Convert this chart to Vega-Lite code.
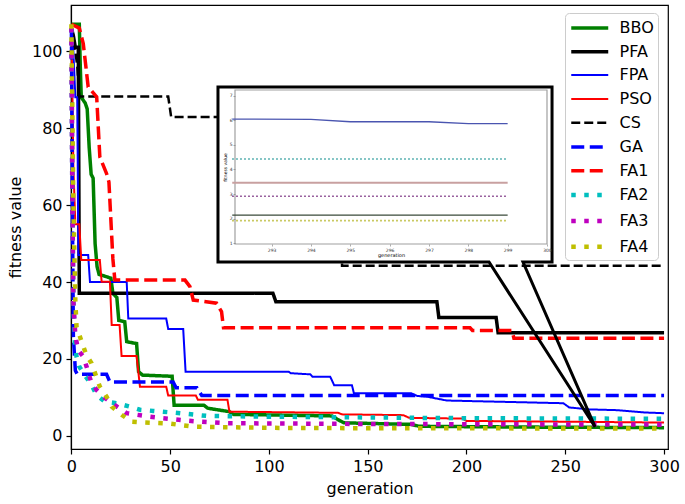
{
  "$schema": "https://vega.github.io/schema/vega-lite/v6.json",
  "width": 597,
  "height": 444,
  "autosize": "none",
  "padding": {"left": 71, "top": 5, "right": 17, "bottom": 55},
  "background": "white",
  "config": {
    "font": "DejaVu Sans",
    "view": {"stroke": "#000", "strokeWidth": 1.2},
    "axis": {"labelFont": "DejaVu Sans", "titleFont": "DejaVu Sans", "labelFontSize": 16, "titleFontSize": 16, "titleFontWeight": "normal", "labelColor": "#000", "titleColor": "#000", "tickColor": "#000", "domainColor": "#000", "tickSize": 5, "grid": false, "labelFlush": false, "labelOverlap": false, "domainWidth": 1.2, "tickWidth": 1.2}
  },
  "datasets": {
    "main": [
      {"s":"BBO","x":0,"y":107},{"s":"BBO","x":4,"y":107},{"s":"BBO","x":4.5,"y":96},{"s":"BBO","x":5,"y":88},{"s":"BBO","x":7,"y":86.5},{"s":"BBO","x":8,"y":85},{"s":"BBO","x":9,"y":75},{"s":"BBO","x":10,"y":68},{"s":"BBO","x":11,"y":67},{"s":"BBO","x":12,"y":50},{"s":"BBO","x":13,"y":44},{"s":"BBO","x":14,"y":42},{"s":"BBO","x":20,"y":41},{"s":"BBO","x":21,"y":37},{"s":"BBO","x":23,"y":36},{"s":"BBO","x":24,"y":30},{"s":"BBO","x":27,"y":29.7},{"s":"BBO","x":28,"y":24.5},{"s":"BBO","x":33,"y":24},{"s":"BBO","x":34,"y":16.7},{"s":"BBO","x":36,"y":15.8},{"s":"BBO","x":51,"y":15.5},{"s":"BBO","x":52,"y":8},{"s":"BBO","x":67,"y":8},{"s":"BBO","x":69,"y":7.2},{"s":"BBO","x":80,"y":6.3},{"s":"BBO","x":82,"y":5.6},{"s":"BBO","x":132,"y":5.2},{"s":"BBO","x":135,"y":4.2},{"s":"BBO","x":138,"y":3.4},{"s":"BBO","x":172,"y":3.0},{"s":"BBO","x":176,"y":2.5},{"s":"BBO","x":230,"y":2.3},{"s":"BBO","x":300,"y":2.15},
      {"s":"PFA","x":0,"y":106},{"s":"PFA","x":1,"y":104},{"s":"PFA","x":2,"y":101},{"s":"PFA","x":3.5,"y":101},{"s":"PFA","x":4,"y":37.1},{"s":"PFA","x":102,"y":37.1},{"s":"PFA","x":103.5,"y":34.9},{"s":"PFA","x":185,"y":34.9},{"s":"PFA","x":186,"y":30.8},{"s":"PFA","x":215,"y":30.8},{"s":"PFA","x":216,"y":26.8},{"s":"PFA","x":300,"y":26.8},
      {"s":"FPA","x":0,"y":106},{"s":"FPA","x":1,"y":100},{"s":"FPA","x":2,"y":88},{"s":"FPA","x":3,"y":88},{"s":"FPA","x":3.5,"y":47},{"s":"FPA","x":8.5,"y":47},{"s":"FPA","x":9.4,"y":40},{"s":"FPA","x":28,"y":40},{"s":"FPA","x":28.8,"y":30.5},{"s":"FPA","x":48,"y":30.5},{"s":"FPA","x":49,"y":27.8},{"s":"FPA","x":56.6,"y":27.8},{"s":"FPA","x":57.8,"y":16.7},{"s":"FPA","x":110,"y":16.7},{"s":"FPA","x":111,"y":16.3},{"s":"FPA","x":121,"y":16.0},{"s":"FPA","x":122,"y":15.4},{"s":"FPA","x":131,"y":15.4},{"s":"FPA","x":133,"y":13.2},{"s":"FPA","x":142,"y":13.2},{"s":"FPA","x":143,"y":11.1},{"s":"FPA","x":172,"y":11.1},{"s":"FPA","x":175,"y":10.4},{"s":"FPA","x":180,"y":10.2},{"s":"FPA","x":190,"y":9.2},{"s":"FPA","x":215,"y":8.9},{"s":"FPA","x":249,"y":8.5},{"s":"FPA","x":252,"y":7.4},{"s":"FPA","x":262,"y":6.9},{"s":"FPA","x":276,"y":6.7},{"s":"FPA","x":290,"y":6.1},{"s":"FPA","x":300,"y":5.9},
      {"s":"PSO","x":0,"y":106},{"s":"PSO","x":0.5,"y":90},{"s":"PSO","x":1,"y":70},{"s":"PSO","x":2,"y":55},{"s":"PSO","x":4,"y":55},{"s":"PSO","x":5,"y":45.7},{"s":"PSO","x":14.4,"y":45.7},{"s":"PSO","x":15.3,"y":40.1},{"s":"PSO","x":19.5,"y":40.1},{"s":"PSO","x":20.4,"y":28.8},{"s":"PSO","x":24.4,"y":28.8},{"s":"PSO","x":25.4,"y":20.8},{"s":"PSO","x":33,"y":20.8},{"s":"PSO","x":34.7,"y":12.8},{"s":"PSO","x":48,"y":12.8},{"s":"PSO","x":49,"y":10.5},{"s":"PSO","x":63,"y":10.5},{"s":"PSO","x":64,"y":9.4},{"s":"PSO","x":79,"y":9.4},{"s":"PSO","x":80,"y":6.3},{"s":"PSO","x":135,"y":6.0},{"s":"PSO","x":137,"y":5.6},{"s":"PSO","x":168,"y":5.4},{"s":"PSO","x":171,"y":4.7},{"s":"PSO","x":198,"y":4.5},{"s":"PSO","x":200,"y":3.9},{"s":"PSO","x":250,"y":3.7},{"s":"PSO","x":300,"y":3.47},
      {"s":"CS","x":0,"y":106},{"s":"CS","x":1,"y":104},{"s":"CS","x":2,"y":100},{"s":"CS","x":3,"y":96},{"s":"CS","x":4,"y":88.2},{"s":"CS","x":49,"y":88.2},{"s":"CS","x":50.5,"y":82.9},{"s":"CS","x":136,"y":82.9},{"s":"CS","x":137,"y":44.2},{"s":"CS","x":300,"y":44.2},
      {"s":"GA","x":0,"y":106},{"s":"GA","x":0.5,"y":60},{"s":"GA","x":1,"y":26},{"s":"GA","x":2,"y":17},{"s":"GA","x":3,"y":16},{"s":"GA","x":17.8,"y":16},{"s":"GA","x":19.5,"y":14},{"s":"GA","x":51.5,"y":14},{"s":"GA","x":53,"y":12.5},{"s":"GA","x":63.5,"y":12.5},{"s":"GA","x":66,"y":10.5},{"s":"GA","x":300,"y":10.5},
      {"s":"FA1","x":0,"y":107},{"s":"FA1","x":4,"y":106},{"s":"FA1","x":6,"y":102},{"s":"FA1","x":8.5,"y":90.7},{"s":"FA1","x":12.8,"y":88.1},{"s":"FA1","x":14.4,"y":72.5},{"s":"FA1","x":17.8,"y":68.2},{"s":"FA1","x":19,"y":66},{"s":"FA1","x":21,"y":46},{"s":"FA1","x":22,"y":40.5},{"s":"FA1","x":57.5,"y":40.5},{"s":"FA1","x":60,"y":38.8},{"s":"FA1","x":61.7,"y":35.3},{"s":"FA1","x":73.5,"y":34.5},{"s":"FA1","x":76,"y":32.3},{"s":"FA1","x":77,"y":28.1},{"s":"FA1","x":201.8,"y":28.1},{"s":"FA1","x":203,"y":27.4},{"s":"FA1","x":223,"y":27.4},{"s":"FA1","x":224,"y":25.4},{"s":"FA1","x":300,"y":25.4},
      {"s":"FA2","x":0,"y":106},{"s":"FA2","x":0.5,"y":60},{"s":"FA2","x":1,"y":35},{"s":"FA2","x":1.8,"y":24.1},{"s":"FA2","x":2.6,"y":20.6},{"s":"FA2","x":4,"y":18},{"s":"FA2","x":6.8,"y":15.8},{"s":"FA2","x":10.2,"y":13.2},{"s":"FA2","x":12.8,"y":10.6},{"s":"FA2","x":17,"y":8.9},{"s":"FA2","x":22.9,"y":8.5},{"s":"FA2","x":29.6,"y":7.6},{"s":"FA2","x":34.7,"y":6.8},{"s":"FA2","x":41.4,"y":6.5},{"s":"FA2","x":55,"y":5.9},{"s":"FA2","x":68.5,"y":5.2},{"s":"FA2","x":100,"y":5.0},{"s":"FA2","x":150,"y":4.8},{"s":"FA2","x":200,"y":4.6},{"s":"FA2","x":300,"y":4.45},
      {"s":"FA3","x":0,"y":106},{"s":"FA3","x":0.5,"y":60},{"s":"FA3","x":1,"y":35},{"s":"FA3","x":2,"y":26},{"s":"FA3","x":3.4,"y":22.3},{"s":"FA3","x":6,"y":20.6},{"s":"FA3","x":7.7,"y":18},{"s":"FA3","x":10,"y":14},{"s":"FA3","x":12.8,"y":11.9},{"s":"FA3","x":16.1,"y":10.2},{"s":"FA3","x":22,"y":8},{"s":"FA3","x":28,"y":5.9},{"s":"FA3","x":33,"y":5.5},{"s":"FA3","x":39.7,"y":5.0},{"s":"FA3","x":46.5,"y":4.6},{"s":"FA3","x":58.3,"y":4.0},{"s":"FA3","x":65,"y":3.7},{"s":"FA3","x":78.6,"y":3.3},{"s":"FA3","x":150,"y":3.1},{"s":"FA3","x":300,"y":2.93},
      {"s":"FA4","x":0,"y":107},{"s":"FA4","x":1,"y":60},{"s":"FA4","x":2,"y":35},{"s":"FA4","x":2.6,"y":28.4},{"s":"FA4","x":5.2,"y":24.5},{"s":"FA4","x":7.6,"y":21},{"s":"FA4","x":10.2,"y":18.9},{"s":"FA4","x":14.4,"y":12.8},{"s":"FA4","x":17.8,"y":10.2},{"s":"FA4","x":20.4,"y":7.6},{"s":"FA4","x":25.4,"y":5.5},{"s":"FA4","x":30.5,"y":3.7},{"s":"FA4","x":36.4,"y":3.5},{"s":"FA4","x":49.9,"y":3.2},{"s":"FA4","x":61.7,"y":2.4},{"s":"FA4","x":100,"y":2.1},{"s":"FA4","x":150,"y":2.0},{"s":"FA4","x":300,"y":1.92}
    ],
    "box": [{"x": 74.2, "x2": 243.3, "y": 45.2, "y2": 90.7}],
    "border": [
      {"o":0,"x":265.1,"y":2.33},{"o":1,"x":211.4,"y":45.2},{"o":2,"x":74.2,"y":45.2},{"o":3,"x":74.2,"y":90.7},{"o":4,"x":243.3,"y":90.7},{"o":5,"x":243.3,"y":45.2},{"o":6,"x":228.6,"y":45.2},{"o":7,"x":265.1,"y":2.33}
    ],
    "inset": [
      {"s":"FPA","x":292,"y":6.05},{"s":"FPA","x":294,"y":6.04},{"s":"FPA","x":295,"y":5.94},{"s":"FPA","x":297,"y":5.94},{"s":"FPA","x":298,"y":5.86},{"s":"FPA","x":299,"y":5.86},
      {"s":"FA2","x":292,"y":4.43},{"s":"FA2","x":299,"y":4.43},
      {"s":"PSO","x":292,"y":3.46},{"s":"PSO","x":299,"y":3.46},
      {"s":"FA3","x":292,"y":2.91},{"s":"FA3","x":299,"y":2.91},
      {"s":"BBO","x":292,"y":2.14},{"s":"BBO","x":299,"y":2.14},
      {"s":"FA4","x":292,"y":1.92},{"s":"FA4","x":299,"y":1.92}
    ]
  },
  "layer": [
    {
      "layer": [
        {
          "data": {"name": "main"},
          "mark": {"type": "line", "strokeCap": "butt", "strokeJoin": "miter"},
          "encoding": {
            "x": {"field": "x", "type": "quantitative", "title": "generation", "scale": {"domain": [-0.2, 302], "nice": false, "zero": false}, "axis": {"values": [0, 50, 100, 150, 200, 250, 300], "labelPadding": 4, "titlePadding": 6}},
            "y": {"field": "y", "type": "quantitative", "title": "fitness value", "scale": {"domain": [-3.4, 112], "nice": false, "zero": false}, "axis": {"values": [0, 20, 40, 60, 80, 100], "labelPadding": 4, "titlePadding": 8}},
            "color": {"field": "s", "type": "nominal", "title": null,
              "scale": {"domain": ["BBO","PFA","FPA","PSO","CS","GA","FA1","FA2","FA3","FA4"], "range": ["#008000","#000000","#0000ff","#ff0000","#000000","#0000ff","#ff0000","#00bfbf","#bf00bf","#bfbf00"]},
              "legend": {"orient": "none", "legendX": 494, "legendY": 8, "symbolType": "M-1,0H3", "symbolSize": 342, "labelFontSize": 16, "labelFont": "DejaVu Sans", "labelColor": "#000", "labelOffset": 27.5, "rowPadding": 4.8, "padding": 4, "strokeColor": "#cccccc", "fillColor": "#ffffff", "cornerRadius": 4}},
            "strokeDash": {"field": "s", "type": "nominal", "title": null,
              "scale": {"domain": ["BBO","PFA","FPA","PSO","CS","GA","FA1","FA2","FA3","FA4"], "range": [[1,0],[1,0],[1,0],[1,0],[9,4],[13,5.5],[13,5.5],[4.5,8.5],[4.5,8.5],[4.5,8.5]]}},
            "strokeWidth": {"field": "s", "type": "nominal", "title": null,
              "scale": {"type": "ordinal", "domain": ["BBO","PFA","FPA","PSO","CS","GA","FA1","FA2","FA3","FA4"], "range": [3.5,3.5,2,2,2.5,3.5,3.5,4.5,4.5,4.5]}}
          }
        },
        {
          "data": {"name": "box"},
          "mark": {"type": "rect", "fill": "#ffffff", "stroke": null},
          "encoding": {
            "x": {"field": "x", "type": "quantitative", "title": "generation"},
            "x2": {"field": "x2"},
            "y": {"field": "y", "type": "quantitative", "title": "fitness value"},
            "y2": {"field": "y2"}
          }
        },
        {
          "data": {"name": "border"},
          "mark": {"type": "line", "color": "#000000", "strokeWidth": 3, "strokeJoin": "miter"},
          "encoding": {
            "x": {"field": "x", "type": "quantitative", "title": "generation"},
            "y": {"field": "y", "type": "quantitative", "title": "fitness value"},
            "order": {"field": "o", "type": "quantitative"}
          }
        }
      ]
    },
    {
      "layer": [
        {
          "data": {"values": [{}]},
          "mark": {"type": "rect", "fill": null, "stroke": "#a0a0a0", "strokeWidth": 1.2},
          "encoding": {
            "x": {"datum": 292.07, "type": "quantitative", "title": "generation",
              "scale": {"domain": [292.07, 300], "range": [164, 476], "nice": false, "zero": false},
              "axis": {"orient": "bottom", "offset": -205, "values": [293,294,295,296,297,298,299,300], "format": "d", "labelFontSize": 4.5, "labelColor": "#333", "tickSize": 2, "tickColor": "#777", "tickWidth": 0.6, "domain": false, "titleFontSize": 5, "titlePadding": 1, "labelPadding": 1, "zindex": 2}},
            "x2": {"datum": 300},
            "y": {"datum": 0.97, "type": "quantitative", "title": "fitness value",
              "scale": {"domain": [0.97, 7.23], "range": [239, 85], "nice": false, "zero": false},
              "axis": {"orient": "left", "offset": -164, "values": [1,2,3,4,5,6,7], "format": "d", "labelFontSize": 4.5, "labelColor": "#333", "tickSize": 2, "tickColor": "#777", "tickWidth": 0.6, "domain": false, "titleFontSize": 4.5, "titlePadding": 2, "labelPadding": 1, "zindex": 2}},
            "y2": {"datum": 7.23}
          }
        },
        {
          "data": {"name": "inset"},
          "transform": [{"filter": {"field": "s", "equal": "FPA"}}],
          "mark": {"type": "line", "color": "#4a55b0", "strokeWidth": 1.3, "clip": true},
          "encoding": {"x": {"field": "x", "type": "quantitative", "title": "generation"}, "y": {"field": "y", "type": "quantitative", "title": "fitness value"}}
        },
        {
          "data": {"name": "inset"},
          "transform": [{"filter": {"field": "s", "equal": "FA2"}}],
          "mark": {"type": "line", "color": "#2a9a9a", "strokeWidth": 1.5, "strokeDash": [1.5, 2.5], "clip": true},
          "encoding": {"x": {"field": "x", "type": "quantitative", "title": "generation"}, "y": {"field": "y", "type": "quantitative", "title": "fitness value"}}
        },
        {
          "data": {"name": "inset"},
          "transform": [{"filter": {"field": "s", "equal": "PSO"}}],
          "mark": {"type": "line", "color": "#c8a0a0", "strokeWidth": 2, "clip": true},
          "encoding": {"x": {"field": "x", "type": "quantitative", "title": "generation"}, "y": {"field": "y", "type": "quantitative", "title": "fitness value"}}
        },
        {
          "data": {"name": "inset"},
          "transform": [{"filter": {"field": "s", "equal": "FA3"}}],
          "mark": {"type": "line", "color": "#7a3080", "strokeWidth": 1.5, "strokeDash": [1.5, 2.5], "clip": true},
          "encoding": {"x": {"field": "x", "type": "quantitative", "title": "generation"}, "y": {"field": "y", "type": "quantitative", "title": "fitness value"}}
        },
        {
          "data": {"name": "inset"},
          "transform": [{"filter": {"field": "s", "equal": "BBO"}}],
          "mark": {"type": "line", "color": "#3a4a3a", "strokeWidth": 1.2, "clip": true},
          "encoding": {"x": {"field": "x", "type": "quantitative", "title": "generation"}, "y": {"field": "y", "type": "quantitative", "title": "fitness value"}}
        },
        {
          "data": {"name": "inset"},
          "transform": [{"filter": {"field": "s", "equal": "FA4"}}],
          "mark": {"type": "line", "color": "#b8b830", "strokeWidth": 1.6, "strokeDash": [1.5, 2.5], "clip": true},
          "encoding": {"x": {"field": "x", "type": "quantitative", "title": "generation"}, "y": {"field": "y", "type": "quantitative", "title": "fitness value"}}
        }
      ]
    }
  ],
  "resolve": {"scale": {"x": "independent", "y": "independent"}}
}
